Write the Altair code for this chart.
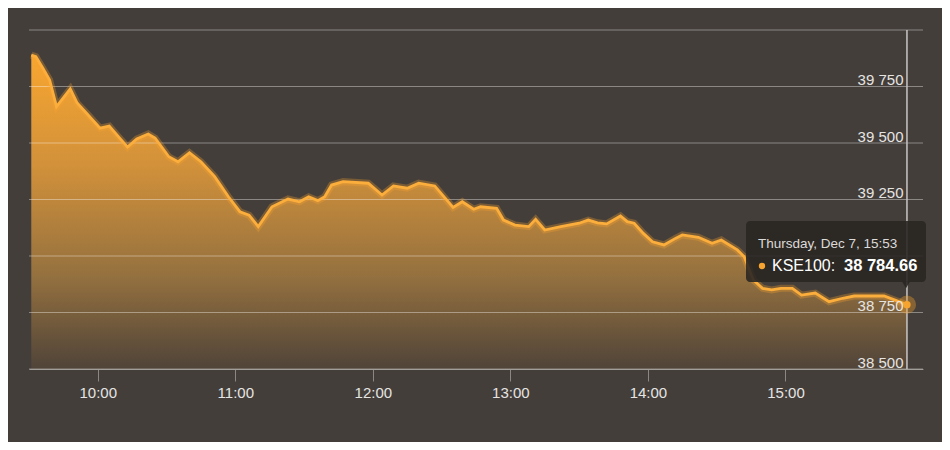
import altair as alt
import pandas as pd

# ---- data ----
times = ["09:31", "09:33", "09:36", "09:39", "09:42", "09:48", "09:51", "09:55",
         "10:01", "10:05", "10:09", "10:13", "10:17", "10:22", "10:25", "10:31",
         "10:35", "10:40", "10:45", "10:51", "10:57", "11:02", "11:06", "11:10",
         "11:16", "11:23", "11:28", "11:32", "11:36", "11:39", "11:42", "11:47",
         "11:58", "12:04", "12:09", "12:15", "12:20", "12:27", "12:35", "12:39",
         "12:44", "12:47", "12:54", "12:57", "13:02", "13:08", "13:11", "13:15",
         "13:22", "13:30", "13:34", "13:38", "13:42", "13:48", "13:51", "13:54",
         "13:58", "14:02", "14:07", "14:12", "14:15", "14:22", "14:28", "14:32",
         "14:39", "14:42", "14:46", "14:50", "14:54", "14:58", "15:03", "15:07",
         "15:13", "15:19", "15:25", "15:30", "15:36", "15:43", "15:53"]
values = [39889, 39882, 39832, 39779, 39661, 39739, 39677, 39633,
          39566, 39575, 39528, 39482, 39518, 39540, 39522, 39439,
          39417, 39457, 39417, 39351, 39262, 39196, 39181, 39130,
          39218, 39252, 39240, 39262, 39245, 39262, 39314, 39329,
          39322, 39270, 39310, 39300, 39322, 39310, 39215, 39240,
          39207, 39218, 39211, 39159, 39137, 39130, 39162, 39115,
          39130, 39145, 39159, 39147, 39142, 39177, 39152, 39145,
          39100, 39063, 39049, 39078, 39093, 39083, 39056, 39071,
          39027, 38997, 38894, 38857, 38850, 38857, 38857, 38827,
          38836, 38798, 38813, 38823, 38823, 38823, 38784.66]
y_ticks = [38500, 38750, 39000, 39250, 39500, 39750, 40000]
x_ticks = ["10:00", "11:00", "12:00", "13:00", "14:00", "15:00"]
x_domain = ["09:30", "16:00"]
series_name = "KSE100"
tooltip_date = "Thursday, Dec 7, 15:53"


def to_min(t):
    h, m = t.split(":")
    return int(h) * 60 + int(m)


df = pd.DataFrame({"t": [to_min(t) for t in times], "v": values})
last = df.iloc[[-1]].reset_index(drop=True)
grid_df = pd.DataFrame({"v": y_ticks})
last_text = f"{values[-1]:,.2f}".replace(",", " ")

W, H = 894, 339
BG = "#433e3a"
LABEL = "#e6e4e2"
ORANGE = "#f7a330"

x_enc = alt.X(
    "t:Q",
    scale=alt.Scale(domain=[to_min(d) for d in x_domain], nice=False, zero=False),
    axis=alt.Axis(
        values=[to_min(t) for t in x_ticks],
        labelExpr="floor(datum.value / 60) + ':00'",
        grid=False, domainColor="#8c8782", tickColor="#8c8782",
        tickSize=12, labelPadding=4, labelFontSize=15, labelColor=LABEL,
        title=None,
    ),
)
# 40 000 sits above the visible labels and 39 000 is hidden under the tooltip
y_enc = alt.Y(
    "v:Q",
    scale=alt.Scale(domain=[38500, 40000], nice=False, zero=False),
    axis=alt.Axis(
        orient="right", values=y_ticks,
        labelExpr="(datum.value >= 40000 || datum.value == 39000) ? '' : replace(format(datum.value, ','), ',', ' ')",
        grid=False, domain=False, ticks=False, tickSize=0,
        labelAlign="right", labelPadding=-20, labelBaseline="alphabetic",
        labelOffset=-2, labelFontSize=15, labelColor=LABEL, title=None, zindex=1,
    ),
)

gradient = alt.Gradient(
    gradient="linear",
    stops=[
        alt.GradientStop(color="#f8a630", offset=0),
        alt.GradientStop(color="#d2913a", offset=0.35),
        alt.GradientStop(color="#95713f", offset=0.7),
        alt.GradientStop(color="#504439", offset=1),
    ],
    x1=0, x2=0, y1=0, y2=1,
)

area = alt.Chart(df).mark_area(color=gradient).encode(
    x=x_enc, y=y_enc, y2=alt.datum(38500)
)

grid = alt.Chart(grid_df).mark_rule(color="#ffffff", opacity=0.38, strokeWidth=1).encode(
    y=alt.Y("v:Q")
)

glow = alt.Chart(df).mark_line(color=ORANGE, strokeWidth=7, opacity=0.3).encode(
    x="t:Q", y="v:Q"
)
line = alt.Chart(df).mark_line(color="#fcae3c", strokeWidth=2.8).encode(
    x="t:Q", y="v:Q"
)

crosshair = alt.Chart(last).mark_rule(color="#c8c6c4", strokeWidth=1.5).encode(x="t:Q")

halo = alt.Chart(last).mark_circle(size=330, color="#e89a30", opacity=0.4).encode(
    x="t:Q", y="v:Q"
)
dot = alt.Chart(last).mark_circle(size=55, color=ORANGE, opacity=1).encode(
    x="t:Q", y="v:Q"
)

# tooltip box
box = alt.Chart(last).mark_rect(cornerRadius=4, fill="#2a2724", opacity=0.9).encode(
    x=alt.value(717), x2=alt.value(897), y=alt.value(191), y2=alt.value(252)
)
pointer = alt.Chart(last).mark_point(
    shape="triangle-down", filled=True, size=60, color="#2a2724", opacity=0.9
).encode(x=alt.value(877), y=alt.value(255))

t1 = alt.Chart(last).mark_text(
    text=tooltip_date, align="left", baseline="middle", fontSize=13.5, color="#dcdad8"
).encode(x=alt.value(729), y=alt.value(214))
bullet = alt.Chart(last).mark_circle(size=40, color=ORANGE, opacity=1).encode(
    x=alt.value(733), y=alt.value(236)
)
t2 = alt.Chart(last).mark_text(
    text=series_name + ":", align="left", baseline="middle", fontSize=16, color="#ffffff"
).encode(x=alt.value(743), y=alt.value(236))
t3 = alt.Chart(last).mark_text(
    text=last_text, align="left", baseline="middle", fontSize=16.5, fontWeight="bold",
    color="#ffffff"
).encode(x=alt.value(815), y=alt.value(236))

chart = alt.layer(
    area, grid, glow, line, crosshair, halo, dot, box, pointer, t1, bullet, t2, t3
).properties(
    width=W, height=H,
    autosize="none",
    padding={"left": 21, "top": 22, "right": 19, "bottom": 73},
    background=BG,
).configure(
    font="Liberation Sans",
    view=alt.ViewConfig(stroke=None),
)

chart.save("out.html", embed_options={"renderer": "svg", "actions": False})
